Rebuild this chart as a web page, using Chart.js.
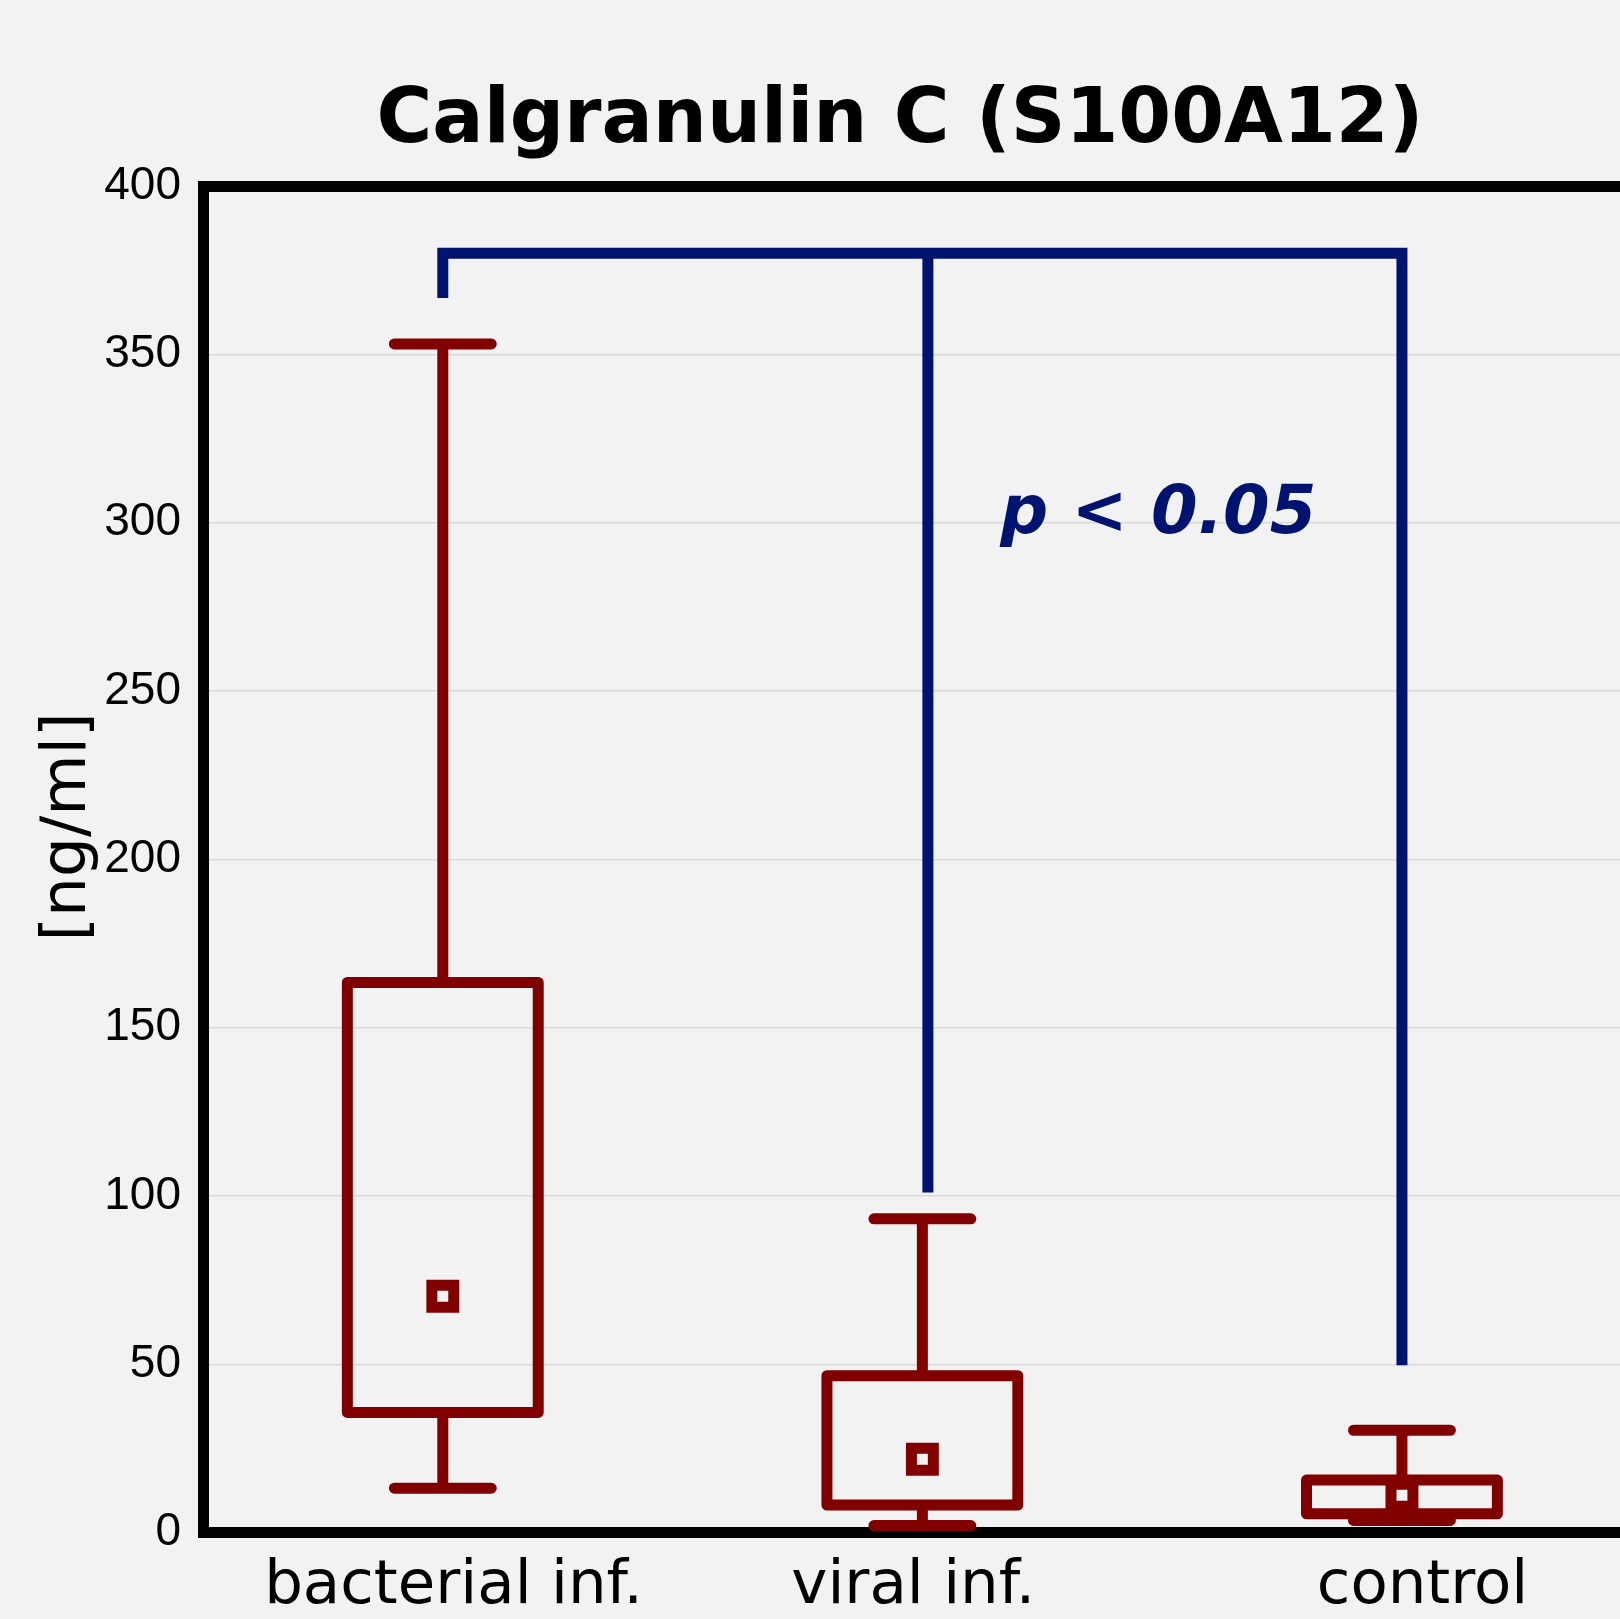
<!DOCTYPE html>
<html>
<head>
<meta charset="utf-8">
<script src="https://cdn.jsdelivr.net/npm/chart.js@4.4.0/dist/chart.umd.min.js"></script>
<style>
  html, body { margin: 0; padding: 0; background: #f2f2f2; overflow: hidden; }
  #wrap { position: absolute; left: 0; top: 0; width: 1800px; height: 1619px; }
</style>
</head>
<body>
<div id="wrap"><canvas id="boxChart" width="1800" height="1619"></canvas></div>
<script>
// groups and box statistics (ng/ml)
const groups = ['bacterial inf.', 'viral inf.', 'control'];
const whiskerLow  = [13.2, 2.1, 3.6];
const boxLow      = [35.7, 8.2, 5.6];
const midPoint    = [70.2, 21.8, 11.1];
const boxHigh     = [163.4, 46.6, 15.6];
const whiskerHigh = [353.1, 93.2, 30.4];

const yTicks = [0, 50, 100, 150, 200, 250, 300, 350, 400];
// group names are not quite centred under their boxes in the original
const labelShift = [0.0225, -0.019, 0.043];

// significance bracket: legs hang from the top bar down to these values
const bracketLegX = [0, 1.0115, 2];
const bracketLegEnd = [366.7, 101, 49.7];
const bracketTop = 380;
const pText = 'p < 0.05';
const pTextX = 1.1625;
const pTextY = 296.9;

const yTitle = '[ng/ml]';

const red = '#800000';
const blue = '#00146f';
const boxHalf = 0.199;
const capHalf = 0.101;

/***** box + whisker outlines as one broken line *****/
const redPath = [];
groups.forEach((g, i) => {
  redPath.push(
    {x: i - boxHalf, y: boxLow[i]}, {x: i + boxHalf, y: boxLow[i]},
    {x: i + boxHalf, y: boxHigh[i]}, {x: i - boxHalf, y: boxHigh[i]},
    {x: i - boxHalf, y: boxLow[i]}, {x: i, y: null},
    {x: i, y: boxHigh[i]}, {x: i, y: whiskerHigh[i]}, {x: i, y: null},
    {x: i - capHalf, y: whiskerHigh[i]}, {x: i + capHalf, y: whiskerHigh[i]}, {x: i, y: null},
    {x: i, y: boxLow[i]}, {x: i, y: whiskerLow[i]}, {x: i, y: null},
    {x: i - capHalf, y: whiskerLow[i]}, {x: i + capHalf, y: whiskerLow[i]}, {x: i, y: null}
  );
});

const markers = groups.map((g, i) => ({x: i, y: midPoint[i]}));

const bluePath = [
  {x: bracketLegX[0], y: bracketLegEnd[0]}, {x: bracketLegX[0], y: bracketTop},
  {x: bracketLegX[2], y: bracketTop}, {x: bracketLegX[2], y: bracketLegEnd[2]},
  {x: bracketLegX[1], y: null},
  {x: bracketLegX[1], y: bracketTop}, {x: bracketLegX[1], y: bracketLegEnd[1]}
];

/***** extra texts: p value and the y axis caption *****/
const extraText = {
  id: 'extraText',
  afterDatasetsDraw(chart) {
    const {ctx, scales: {x, y}} = chart;
    ctx.save();
    ctx.font = 'italic bold 67px "DejaVu Sans"';
    ctx.fillStyle = blue;
    ctx.textAlign = 'left';
    ctx.textBaseline = 'alphabetic';
    ctx.fillText(pText, x.getPixelForValue(pTextX), y.getPixelForValue(pTextY));

    ctx.translate(69, 827);
    ctx.rotate(-Math.PI / 2);
    ctx.font = '63px "DejaVu Sans"';
    ctx.fillStyle = '#000';
    ctx.textAlign = 'center';
    ctx.textBaseline = 'middle';
    ctx.fillText(yTitle, 0, 0);
    ctx.restore();
  }
};

const TITLE_H = 77 + 76 * 1.2;

const config = {
  type: 'line',
  data: {
    datasets: [{
      data: bluePath,
      borderColor: blue,
      borderWidth: 11,
      borderCapStyle: 'butt',
      borderJoinStyle: 'miter',
      pointRadius: 0,
      spanGaps: false,
      tension: 0
    }, {
      data: redPath,
      borderColor: red,
      borderWidth: 11,
      borderCapStyle: 'round',
      borderJoinStyle: 'round',
      pointRadius: 0,
      spanGaps: false,
      tension: 0
    }, {
      data: markers,
      showLine: false,
      pointStyle: 'rect',
      pointRadius: 15.5,
      pointBorderWidth: 11,
      pointBorderColor: red,
      pointBackgroundColor: 'rgba(0,0,0,0)'
    }]
  },
  options: {
    responsive: false,
    animation: false,
    devicePixelRatio: 1,
    events: [],
    layout: { padding: 0, autoPadding: false },
    plugins: {
      legend: { display: false },
      tooltip: { enabled: false },
      title: {
        display: true,
        text: 'Calgranulin C (S100A12)',
        color: '#000',
        font: { family: '"DejaVu Sans"', size: 76, weight: 'bold' },
        padding: { top: 77, bottom: 0 }
      }
    },
    scales: {
      x: {
        type: 'linear',
        position: 'bottom',
        min: -0.5,
        max: 2.83,
        afterBuildTicks: s => { s.ticks = groups.map((g, i) => ({value: i + labelShift[i]})); },
        afterFit: s => { s.height = 86.4; },
        grid: { display: false, drawTicks: false },
        border: { display: true, width: 11, color: '#000' },
        ticks: {
          autoSkip: false,
          maxRotation: 0,
          padding: 18,
          color: '#000',
          font: { family: '"DejaVu Sans"', size: 61 },
          callback: (v, idx) => groups[idx]
        }
      },
      x2: {
        type: 'linear',
        position: 'top',
        min: -0.5,
        max: 2.83,
        afterFit: s => { s.height = 186 - TITLE_H; },
        grid: { display: false, drawTicks: false },
        border: { display: true, width: 11, color: '#000' },
        ticks: { display: false }
      },
      y: {
        min: 0,
        max: 400,
        afterBuildTicks: s => { s.ticks = yTicks.map(v => ({value: v})); },
        afterFit: s => { s.width = 203; },
        grid: { color: '#d9d9d9', lineWidth: 1.5, drawTicks: false },
        border: { display: true, width: 11, color: '#000' },
        ticks: {
          padding: 22,
          color: '#000',
          font: { family: '"Liberation Sans"', size: 46 }
        }
      }
    }
  },
  plugins: [extraText]
};

const myChart = new Chart(document.getElementById('boxChart'), config);
</script>
</body>
</html>
